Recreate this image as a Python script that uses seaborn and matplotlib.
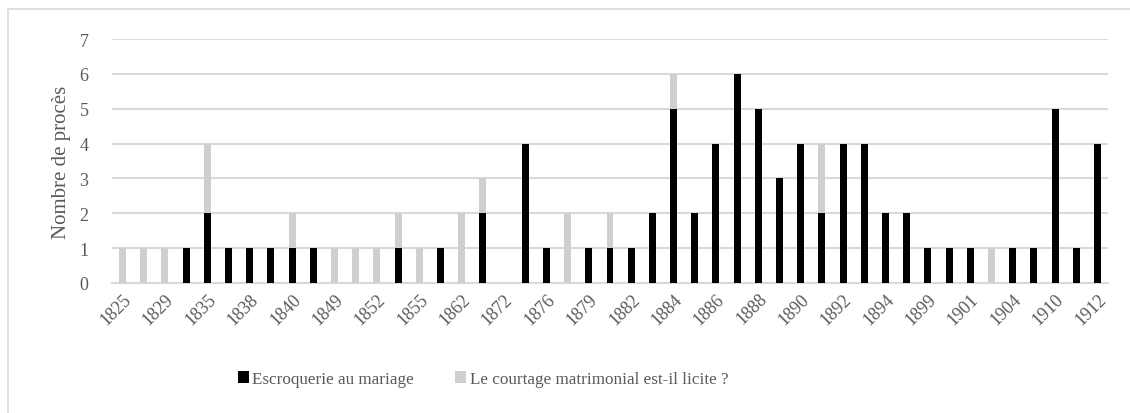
import numpy as np
import pandas as pd
import matplotlib
matplotlib.use('Agg')
import matplotlib.pyplot as plt
import seaborn as sns
from matplotlib.lines import Line2D
from matplotlib.patches import Patch

# years (only every other one is labelled on the axis)
years = ['1825', '1827', '1829', '1832', '1835', '1836', '1838', '1839', '1840', '1845',
         '1849', '1850', '1852', '1854', '1855', '1858', '1862', '1867', '1872', '1874',
         '1876', '1878', '1879', '1881', '1882', '1883', '1884', '1885', '1886', '1887',
         '1888', '1889', '1890', '1891', '1892', '1893', '1894', '1896', '1899', '1900',
         '1901', '1903', '1904', '1907', '1910', '1911', '1912']
escroquerie = [0, 0, 0, 1, 2, 1, 1, 1, 1, 1,
               0, 0, 0, 1, 0, 1, 0, 2, 0, 4,
               1, 0, 1, 1, 1, 2, 5, 2, 4, 6,
               5, 3, 4, 2, 4, 4, 2, 2, 1, 1,
               1, 0, 1, 1, 5, 1, 4]
courtage = [1, 1, 1, 0, 2, 0, 0, 0, 1, 0,
            1, 1, 1, 1, 1, 0, 2, 1, 0, 0,
            0, 2, 0, 1, 0, 0, 1, 0, 0, 0,
            0, 0, 0, 2, 0, 0, 0, 0, 0, 0,
            0, 1, 0, 0, 0, 0, 0]

label_black = 'Escroquerie au mariage'
label_gray = 'Le courtage matrimonial est-il licite ?'

df = pd.DataFrame({'annee': years, 'escroquerie': escroquerie, 'courtage': courtage})
df['total'] = df['escroquerie'] + df['courtage']

sns.set_style('white')
plt.rcParams['font.family'] = ['Liberation Serif', 'DejaVu Serif']
txt = '#595959'
grid_c = '#d9d9d9'
gray = '#d0cece'

fig = plt.figure(figsize=(11.3, 4.14), dpi=100, facecolor='white')
ax = fig.add_axes([112/1130, 1-284/414, (1108-112)/1130, (284-40)/414])

# stacked look: total in gray first, black part drawn over it
sns.barplot(data=df, x='annee', y='total', color=gray, width=0.33,
            saturation=1, linewidth=0, ax=ax, zorder=3)
sns.barplot(data=df, x='annee', y='escroquerie', color='black', width=0.33,
            saturation=1, linewidth=0, ax=ax, zorder=4)

ax.set_xlim(-0.5, len(years) - 0.5)
ax.set_ylim(0, 7)
ax.set_yticks(range(0, 8))
ax.yaxis.grid(True, color=grid_c, linewidth=1.5, zorder=0)
ax.set_axisbelow(True)
for s in ['top', 'right', 'left']:
    ax.spines[s].set_visible(False)
ax.spines['bottom'].set_color(grid_c)
ax.spines['bottom'].set_linewidth(1.5)

ticks = np.arange(0, len(years), 2)
ax.set_xticks(ticks)
ax.set_xticklabels([years[i] for i in ticks], rotation=45, ha='right',
                   rotation_mode='anchor', fontsize=13, color=txt)
ax.tick_params(axis='y', labelsize=13, labelcolor=txt, length=0, pad=17)
ax.tick_params(axis='x', length=0, pad=5)
ax.set_xlabel('')
ax.set_ylabel('Nombre de procès', fontsize=15, color=txt, labelpad=6)

handles = [Patch(facecolor='black', edgecolor='none', label=label_black),
           Patch(facecolor=gray, edgecolor='none', label=label_gray)]
fig.legend(handles=handles, loc='center', bbox_to_anchor=(483/1130, 1-380/414),
           ncol=2, frameon=False, fontsize=12.3, handlelength=0.65, handleheight=0.65,
           handletextpad=0.2, columnspacing=2.4, labelcolor=txt)

# chart border
fig.add_artist(Line2D([8/1130, 1], [1-10/414, 1-10/414], color=grid_c, lw=1.2,
                      transform=fig.transFigure))
fig.add_artist(Line2D([8/1130, 8/1130], [0, 1-10/414], color=grid_c, lw=1.2,
                      transform=fig.transFigure))

plt.savefig('out.png', dpi=100)
